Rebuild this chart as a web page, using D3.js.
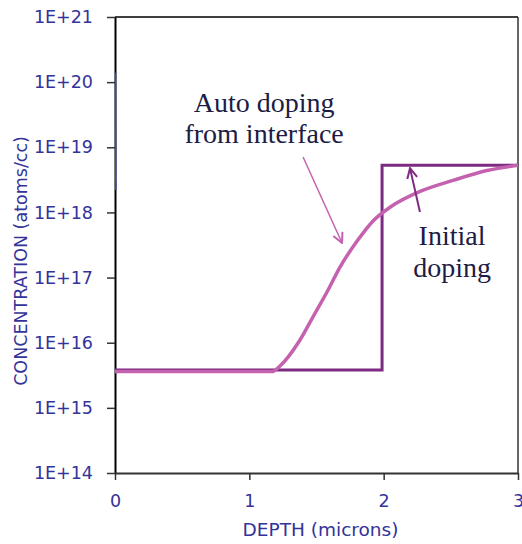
<!DOCTYPE html>
<html>
<head>
<meta charset="utf-8">
<script src="https://cdn.jsdelivr.net/npm/d3@7"></script>
<style>
  body { margin: 0; background: #fff; }
  svg { display: block; }
</style>
</head>
<body>
<div id="chart"></div>
<script>
// Depth axis (microns) and concentration axis (atoms/cc)
var depthTicks = [0, 1, 2, 3];
var concTicks = [1e14, 1e15, 1e16, 1e17, 1e18, 1e19, 1e20, 1e21];
var concLabels = ['1E+14', '1E+15', '1E+16', '1E+17', '1E+18', '1E+19', '1E+20', '1E+21'];

// Initial doping: step profile
var initialDepth = [0, 1.988, 1.988, 3];
var initialConc = [3.8e15, 3.8e15, 5.3e18, 5.3e18];

// Auto doping from interface
var autoDepth = [0, 1.169, 1.228, 1.377, 1.474, 1.578, 1.675, 1.801, 1.921, 2.047, 2.271, 2.516, 2.769, 3.0];
var autoConc = [3.6e15, 3.6e15, 4.4e15, 1.1e16, 2.5e16, 6.0e16, 1.45e17, 3.6e17, 7.4e17, 1.2e18, 2.1e18, 3.1e18, 4.4e18, 5.3e18];

// Surface spike at zero depth
var surfaceDepth = [0.004, 0.006];
var surfaceConc = [1.4e20, 2.2e18];

var W = 522, H = 544;
var m = { left: 115, right: 4, top: 17, bottom: 71 };

var svg = d3.select('#chart')
  .append('svg')
  .attr('width', W)
  .attr('height', H);

var x = d3.scaleLinear()
  .domain([0, 3])
  .range([m.left, W - m.right]);

var y = d3.scaleLog()
  .domain([1e14, 1e21])
  .range([H - m.bottom, m.top]);

var axisColor = '#333399';

// Frame (top and right)
svg.append('line')
  .attr('x1', x(0)).attr('x2', x(3))
  .attr('y1', y(1e21)).attr('y2', y(1e21))
  .style('stroke', '#000').style('stroke-width', 1.5);
svg.append('line')
  .attr('x1', x(3)).attr('x2', x(3))
  .attr('y1', y(1e21)).attr('y2', y(1e14))
  .style('stroke', '#333').style('stroke-width', 1.5);

// Y axis
var yAxis = svg.append('g')
  .attr('transform', 'translate(' + m.left + ',0)')
  .call(d3.axisLeft(y)
    .tickValues(concTicks)
    .tickFormat(function (d, i) { return concLabels[i]; })
    .tickSizeInner(8)
    .tickSizeOuter(0)
    .tickPadding(14));
yAxis.select('.domain').style('stroke', '#000').style('stroke-width', 2);
yAxis.selectAll('.tick line').style('stroke', '#333').style('stroke-width', 1.5);
yAxis.selectAll('.tick text')
  .style('fill', axisColor)
  .style('font-family', 'DejaVu Sans, sans-serif')
  .style('font-size', '17.5px');

// X axis
var xAxis = svg.append('g')
  .attr('transform', 'translate(0,' + (H - m.bottom) + ')')
  .call(d3.axisBottom(x)
    .tickValues(depthTicks)
    .tickFormat(d3.format('d'))
    .tickSizeInner(7)
    .tickSizeOuter(0)
    .tickPadding(15));
xAxis.select('.domain').style('stroke', '#333').style('stroke-width', 2);
xAxis.selectAll('.tick line').style('stroke', '#333').style('stroke-width', 1.5);
xAxis.selectAll('.tick text')
  .style('fill', axisColor)
  .style('font-family', 'DejaVu Sans, sans-serif')
  .style('font-size', '17.5px');

// Axis titles
svg.append('text')
  .attr('x', (x(0) + x(3)) / 2 + 4)
  .attr('y', 536)
  .attr('text-anchor', 'middle')
  .style('fill', axisColor)
  .style('font-family', 'DejaVu Sans, sans-serif')
  .style('font-size', '18.5px')
  .text('DEPTH (microns)');

svg.append('text')
  .attr('transform', 'translate(27,' + 261 + ') rotate(-90)')
  .attr('text-anchor', 'middle')
  .style('fill', axisColor)
  .style('font-family', 'DejaVu Sans, sans-serif')
  .style('font-size', '17.5px')
  .text('CONCENTRATION (atoms/cc)');

// Lines
var line = d3.line()
  .x(function (d) { return x(d[0]); })
  .y(function (d) { return y(d[1]); });

var smooth = d3.line()
  .x(function (d) { return x(d[0]); })
  .y(function (d) { return y(d[1]); })
  .curve(d3.curveMonotoneX);

svg.append('path')
  .datum(d3.zip(surfaceDepth, surfaceConc))
  .attr('d', line)
  .style('fill', 'none')
  .style('stroke', '#3a4a9e')
  .style('stroke-width', 1.5);

svg.append('path')
  .datum(d3.zip(initialDepth, initialConc))
  .attr('d', line)
  .style('fill', 'none')
  .style('stroke', '#7d2a82')
  .style('stroke-width', 3);

svg.append('path')
  .datum(d3.zip(autoDepth, autoConc))
  .attr('d', smooth)
  .style('fill', 'none')
  .style('stroke', '#c462b0')
  .style('stroke-width', 3.5);

// Arrow markers
var defs = svg.append('defs');
[['headPink', '#c462b0'], ['headPurple', '#7d2a82']].forEach(function (h) {
  defs.append('marker')
    .attr('id', h[0])
    .attr('viewBox', '0 0 12 12')
    .attr('refX', 11)
    .attr('refY', 6)
    .attr('markerWidth', 12)
    .attr('markerHeight', 12)
    .attr('markerUnits', 'userSpaceOnUse')
    .attr('orient', 'auto')
    .append('path')
    .attr('d', 'M1,1 L11,6 L1,11')
    .style('fill', 'none')
    .style('stroke', h[1])
    .style('stroke-width', 2);
});

svg.append('line')
  .attr('x1', x(1.40)).attr('y1', y(Math.pow(10, 18.85)))
  .attr('x2', x(1.69)).attr('y2', y(Math.pow(10, 17.53)))
  .style('stroke', '#c462b0')
  .style('stroke-width', 1.5)
  .attr('marker-end', 'url(#headPink)');

svg.append('line')
  .attr('x1', x(2.27)).attr('y1', y(Math.pow(10, 18.006)))
  .attr('x2', x(2.196)).attr('y2', y(Math.pow(10, 18.68)))
  .style('stroke', '#7d2a82')
  .style('stroke-width', 2)
  .attr('marker-end', 'url(#headPurple)');

// Annotations
function note(cx, logc, txt) {
  svg.append('text')
    .attr('x', x(cx))
    .attr('y', y(Math.pow(10, logc)))
    .attr('text-anchor', 'middle')
    .style('fill', '#1c1c44')
    .style('font-family', 'Liberation Serif, Times New Roman, serif')
    .style('font-size', '28px')
    .text(txt);
}
note(1.11, 19.54, 'Auto doping');
note(1.11, 19.07, 'from interface');
note(2.509, 17.5, 'Initial');
note(2.509, 17.01, 'doping');
</script>
</body>
</html>
